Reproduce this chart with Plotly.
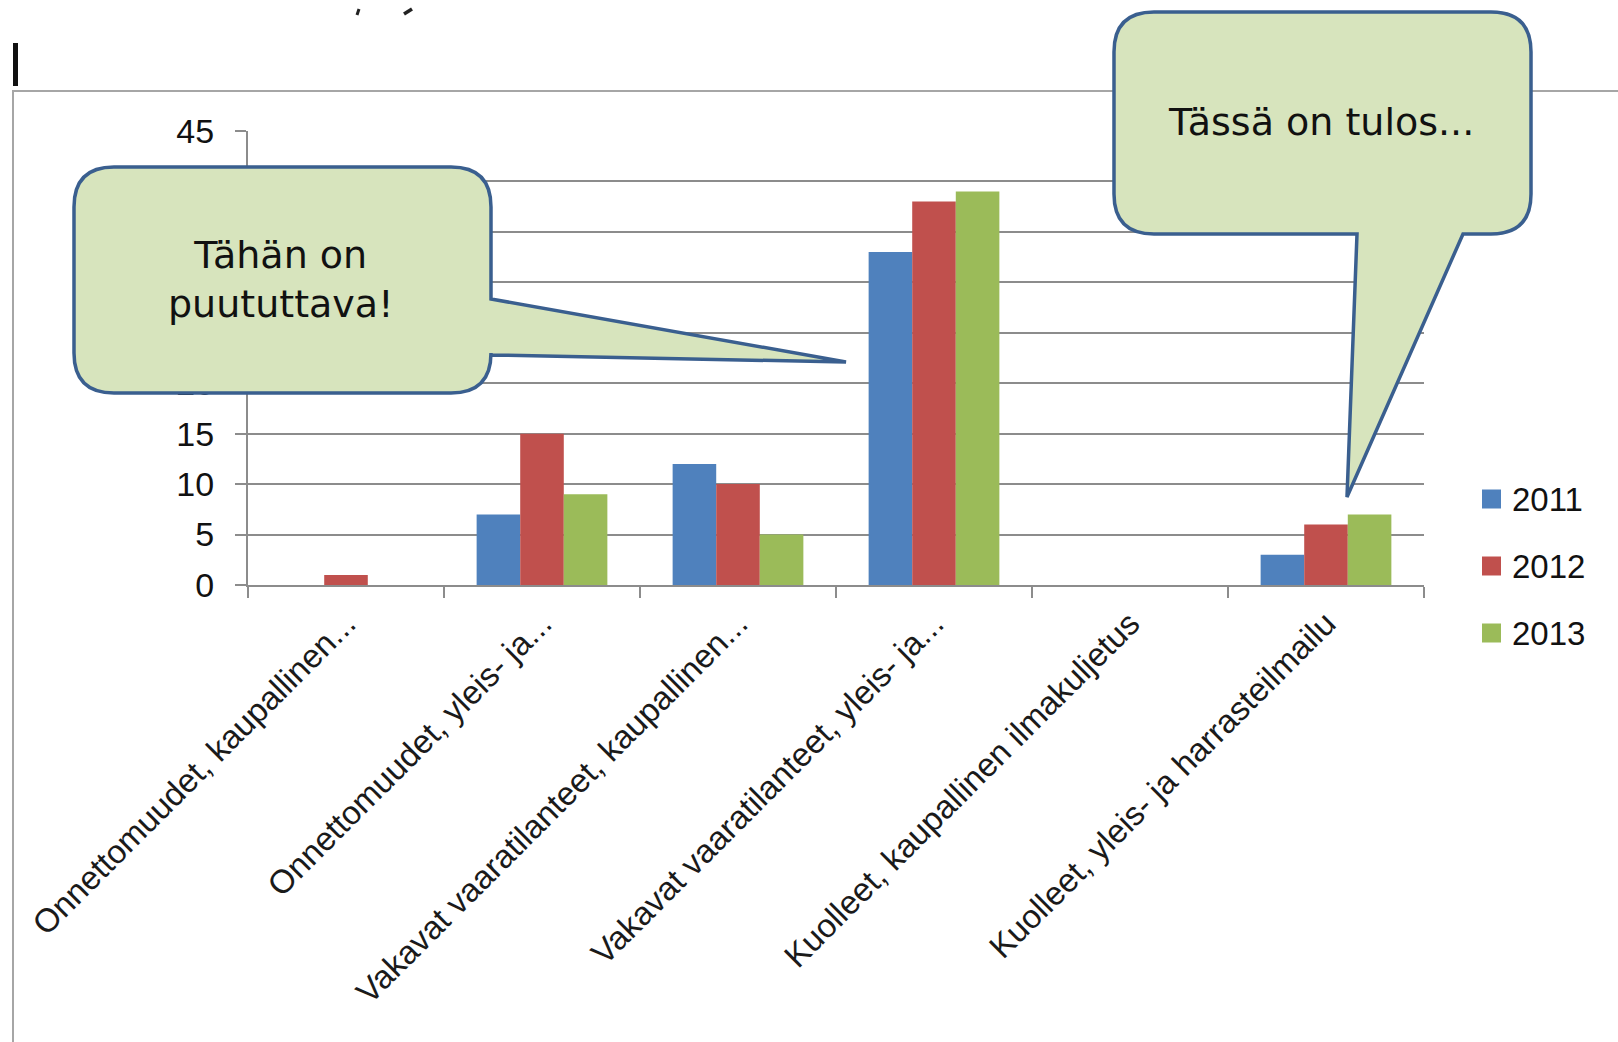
import plotly.graph_objects as go

# ---- data ----
categories = [
    "Onnettomuudet, kaupallinen...",
    "Onnettomuudet, yleis- ja...",
    "Vakavat vaaratilanteet, kaupallinen...",
    "Vakavat vaaratilanteet, yleis- ja...",
    "Kuolleet, kaupallinen ilmakuljetus",
    "Kuolleet, yleis- ja harrasteilmailu",
]
years = ["2011", "2012", "2013"]
values_2011 = [0, 7, 12, 33, 0, 3]
values_2012 = [1, 15, 10, 38, 0, 6]
values_2013 = [0, 9, 5, 39, 0, 7]
series_values = [values_2011, values_2012, values_2013]
colors = ["#4F81BD", "#C0504D", "#9BBB59"]
y_ticks = [0, 5, 10, 15, 20, 25, 30, 35, 40, 45]
callout_left_text = "Tähän on<br>puututtava!"
callout_right_text = "Tässä on tulos..."

# ---- layout geometry (pixels) ----
W, H = 1618, 1042
PL, PR, PT, PB = 248, 1424, 131, 585


def fx(px):
    return (px - PL) / (PR - PL)


def fy(py):
    return (PB - py) / (PB - PT)


def P(px, py):
    return f"{fx(px):.5f},{fy(py):.5f}"


fig = go.Figure()
for name, vals, col in zip(years, series_values, colors):
    fig.add_trace(go.Bar(x=categories, y=vals, name=name, marker_color=col,
                         marker_line_width=0, showlegend=False))

grid = "#8C8C8C"
fig.update_layout(
    width=W, height=H,
    margin=dict(l=PL, r=W - PR, t=PT, b=H - PB),
    paper_bgcolor="white", plot_bgcolor="white",
    barmode="group", bargap=0.333, bargroupgap=0,
    font=dict(family="Liberation Sans", size=34, color="#111"),
    xaxis=dict(
        showline=True, linecolor=grid, linewidth=2,
        ticks="outside", ticklen=11, tickwidth=2, tickcolor=grid,
        tickson="boundaries", tickangle=-45, showgrid=False,
        ticklabelstandoff=4,
        tickfont=dict(family="Liberation Sans", size=33, color="#1a1a1a"),
    ),
    yaxis=dict(
        range=[0, 45], tickvals=y_ticks, showline=True, linecolor=grid,
        linewidth=2, ticks="outside", ticklen=11, tickwidth=2, tickcolor=grid,
        showgrid=True, gridcolor=grid, gridwidth=2, zeroline=False,
        ticklabelstandoff=14,
        tickfont=dict(family="Liberation Sans", size=34, color="#111"),
    ),
)

shapes = []
# outer chart frame
shapes.append(dict(type="rect", xref="paper", yref="paper", layer="below",
                   x0=fx(13), x1=fx(1700), y0=fy(1100), y1=fy(91),
                   line=dict(color="#A6A6A6", width=2), fillcolor="rgba(0,0,0,0)"))
# text cursor & top fragments
shapes.append(dict(type="rect", xref="paper", yref="paper",
                   x0=fx(13), x1=fx(18), y0=fy(86), y1=fy(43),
                   line=dict(width=0), fillcolor="#111"))
shapes.append(dict(type="line", xref="paper", yref="paper",
                   x0=fx(359), y0=fy(9), x1=fx(357), y1=fy(15),
                   line=dict(color="#222", width=3)))
shapes.append(dict(type="line", xref="paper", yref="paper",
                   x0=fx(412), y0=fy(9), x1=fx(404), y1=fy(14),
                   line=dict(color="#222", width=3.5)))


def callout(x0, y0, x1, y1, r, pointer, side):
    pts = [f"M{P(x0 + r, y0)}", f"L{P(x1 - r, y0)}", f"Q{P(x1, y0)} {P(x1, y0 + r)}"]
    if side == "right":
        a, tip, b = pointer
        pts += [f"L{P(x1, a)}", f"L{P(*tip)}", f"L{P(x1, b)}"]
    pts += [f"L{P(x1, y1 - r)}", f"Q{P(x1, y1)} {P(x1 - r, y1)}"]
    if side == "bottom":
        a, tip, b = pointer
        pts += [f"L{P(a, y1)}", f"L{P(*tip)}", f"L{P(b, y1)}"]
    pts += [f"L{P(x0 + r, y1)}", f"Q{P(x0, y1)} {P(x0, y1 - r)}",
            f"L{P(x0, y0 + r)}", f"Q{P(x0, y0)} {P(x0 + r, y0)}", "Z"]
    return dict(type="path", xref="paper", yref="paper", layer="above",
                path=" ".join(pts), fillcolor="#D7E4BD",
                line=dict(color="#3A5F8F", width=3.5))


shapes.append(callout(74, 167, 491, 393, 40, (299, (846, 362), 355), "right"))
shapes.append(callout(1114, 12, 1531, 234, 40, (1463, (1347, 497), 1357), "bottom"))

annotations = [
    dict(xref="paper", yref="paper", x=fx(280), y=fy(279), text=callout_left_text,
         showarrow=False, xanchor="center", yanchor="middle",
         font=dict(family="DejaVu Sans", size=38, color="#111")),
    dict(xref="paper", yref="paper", x=fx(1321), y=fy(122), text=callout_right_text,
         showarrow=False, xanchor="center", yanchor="middle",
         font=dict(family="DejaVu Sans", size=38, color="#111")),
]

# manual legend
for i, (name, col) in enumerate(zip(years, colors)):
    cy = 499 + 67 * i
    shapes.append(dict(type="rect", xref="paper", yref="paper",
                       x0=fx(1482), x1=fx(1501), y0=fy(cy + 9.5), y1=fy(cy - 9.5),
                       line=dict(width=0), fillcolor=col))
    annotations.append(dict(xref="paper", yref="paper", x=fx(1510), y=fy(cy),
                            text=name, showarrow=False, xanchor="left", yanchor="middle",
                            font=dict(family="Liberation Sans", size=33, color="#111")))

fig.update_layout(shapes=shapes, annotations=annotations)
fig.write_html("out.html")
